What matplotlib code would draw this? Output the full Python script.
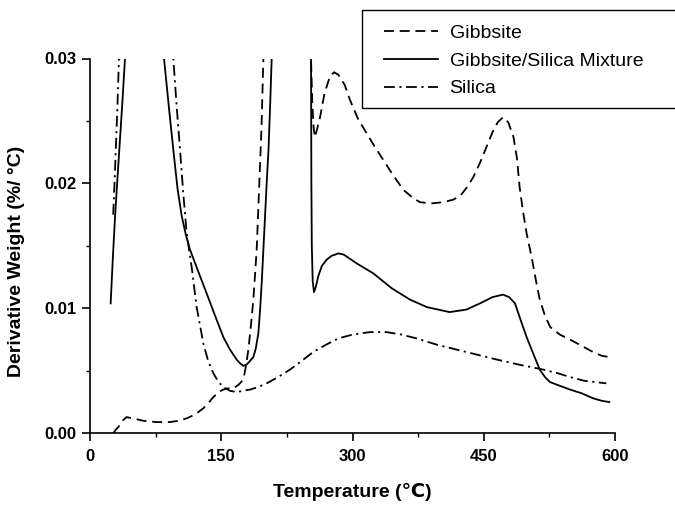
import matplotlib
matplotlib.use("Agg")
import matplotlib.pyplot as plt
from matplotlib.patches import Rectangle
from matplotlib.ticker import MultipleLocator, FormatStrFormatter

plt.rcParams['font.family'] = ['Liberation Sans', 'DejaVu Sans']

# Gibbsite (dashed)
gib_x = [26.7, 29.5, 32.4, 37, 41.9, 48, 55, 61, 75, 91.4, 101, 110.5, 120, 129.5, 135, 141,
         147, 152.4, 158, 163.8, 170, 175.2, 178, 181, 184, 186.7, 190.5, 193.5, 196, 198.1,
         200, 225, 251.5, 252.6, 254, 255.5, 257, 259, 262.9, 268, 274.3, 279, 283.8, 291,
         297, 306.7, 312, 324, 335, 346, 358, 368, 377, 390, 404, 415, 423, 431, 438, 446,
         453, 460, 466, 472, 478, 484, 488, 491, 495, 499, 505, 510, 514, 520, 526, 537,
         548.6, 562, 575, 585, 594]
gib_y = [0.0000, 0.0003, 0.0005, 0.0010, 0.0013, 0.0012, 0.0011, 0.0010, 0.0009, 0.0009,
         0.0010, 0.0012, 0.0015, 0.0020, 0.0024, 0.0029, 0.0033, 0.0035, 0.0036, 0.0036,
         0.0039, 0.0043, 0.0053, 0.0067, 0.0087, 0.0107, 0.0147, 0.0200, 0.0245, 0.0299,
         0.034, 0.05, 0.034, 0.0300, 0.0265, 0.0245, 0.0237, 0.0242, 0.0253, 0.0272, 0.0286,
         0.0289, 0.0287, 0.0279, 0.0267, 0.0251, 0.0245, 0.0231, 0.0219, 0.0207, 0.0195,
         0.0189, 0.0185, 0.0184, 0.0185, 0.0187, 0.0190, 0.0197, 0.0205, 0.0217, 0.0229,
         0.0241, 0.0249, 0.0253, 0.0249, 0.0237, 0.0220, 0.0197, 0.0177, 0.0160, 0.0140,
         0.0121, 0.0107, 0.0094, 0.0085, 0.0079, 0.0075, 0.0070, 0.0065, 0.0062, 0.0061]

# Gibbsite/Silica mixture (solid)
mix_x = [23.6, 26, 28.6, 31, 33.5, 37, 40, 43, 60, 82, 84.6, 90, 95.2, 100, 104.8, 109.5,
         114.3, 124, 133.3, 143, 152.4, 160, 167.6, 171.5, 175.2, 179, 183, 186.7, 189.5,
         192.4, 194.3, 196.2, 198, 200, 201.9, 204, 206, 207.6, 209, 230, 251.5, 252.6,
         253, 253.5, 254.5, 256, 258, 261, 265, 270.5, 276, 283.8, 290, 304.8, 323.8, 345,
         365.7, 385, 411, 430, 445.7, 460, 472, 479, 485.7, 492, 499, 507, 514, 520, 525.7,
         537, 548.6, 562, 575, 585, 593.5]
mix_y = [0.0104, 0.0139, 0.0173, 0.0200, 0.0227, 0.0265, 0.0300, 0.034, 0.05, 0.034, 0.0300,
         0.0262, 0.0227, 0.0196, 0.0174, 0.0159, 0.0147, 0.0129, 0.0112, 0.0094, 0.0077,
         0.0067, 0.0059, 0.0056, 0.0054, 0.0055, 0.0058, 0.0061, 0.0068, 0.0080, 0.0098,
         0.0120, 0.0145, 0.0173, 0.0200, 0.0227, 0.0265, 0.0299, 0.034, 0.05, 0.034, 0.0300,
         0.0200, 0.0150, 0.0122, 0.0113, 0.0117, 0.0126, 0.0134, 0.0139, 0.0142, 0.0144,
         0.0143, 0.0136, 0.0128, 0.0116, 0.0107, 0.0101, 0.0097, 0.0099, 0.0104, 0.0109,
         0.0111, 0.0109, 0.0104, 0.0091, 0.0077, 0.0063, 0.0051, 0.0045, 0.0041, 0.0038,
         0.0035, 0.0032, 0.0028, 0.0026, 0.0025]

# Silica (dash-dot)
sil_x = [26.5, 28, 29.5, 31.5, 33.1, 35, 60, 93, 95.2, 99, 102.9, 106.5, 110.5, 116.2, 121.9,
         129.5, 135, 141, 147, 152.4, 160, 167.6, 175, 182.9, 192, 201.9, 215, 228.6, 242,
         255, 270, 284, 300, 320, 339, 356, 373, 396, 419, 442, 465, 490, 518, 535, 548.6,
         565, 590]
sil_y = [0.0175, 0.0200, 0.0227, 0.0265, 0.0300, 0.034, 0.05, 0.034, 0.0300, 0.0262, 0.0227,
         0.0193, 0.0160, 0.0133, 0.0101, 0.0072, 0.0058, 0.0048, 0.0041, 0.0037, 0.0034,
         0.0033, 0.0034, 0.0035, 0.0037, 0.0040, 0.0045, 0.0051, 0.0058, 0.0065, 0.0071,
         0.0076, 0.0079, 0.0081, 0.0081, 0.0079, 0.0076, 0.0071, 0.0067, 0.0063, 0.0059,
         0.0055, 0.0051, 0.0048, 0.0045, 0.0042, 0.0040]

x_ticks = [0, 150, 300, 450, 600]
y_ticks = [0.00, 0.01, 0.02, 0.03]

fig = plt.figure(figsize=(6.75, 5.05), dpi=100)
ax = fig.add_axes([90/675, 1-433.3/505, 525/675, 374.8/505])

lw = 1.3
l1, = ax.plot(gib_x, gib_y, color='black', lw=lw, dashes=(5.5, 3.2), label='Gibbsite')
l2, = ax.plot(mix_x, mix_y, color='black', lw=lw, label='Gibbsite/Silica Mixture')
l3, = ax.plot(sil_x, sil_y, color='black', lw=lw, dashes=(6, 2.5, 1.2, 2.5), label='Silica')

ax.set_xlim(0, 600)
ax.set_ylim(0, 0.03)
ax.set_xticks(x_ticks)
ax.set_yticks(y_ticks)
ax.xaxis.set_minor_locator(MultipleLocator(75))
ax.yaxis.set_minor_locator(MultipleLocator(0.005))
ax.yaxis.set_major_formatter(FormatStrFormatter('%.2f'))

for s in ['top', 'right']:
    ax.spines[s].set_visible(False)
for s in ['left', 'bottom']:
    ax.spines[s].set_linewidth(1.2)

ax.tick_params(which='major', direction='out', length=6, width=1.2, labelsize=12, pad=4)
ax.tick_params(which='minor', direction='out', length=3, width=1.0)
ax.tick_params(axis='x', which='major', pad=5)
for t in ax.get_xticklabels() + ax.get_yticklabels():
    t.set_fontweight('bold')

ax.set_xlabel('Temperature (℃)', fontsize=14, fontweight='bold')
ax.set_ylabel('Derivative Weight (%/ °C)', fontsize=14, fontweight='bold')
ax.xaxis.set_label_coords(0.499, -0.133)
ax.yaxis.set_label_coords(-0.124, 0.46)

# legend box hangs over the top-right corner
fig.add_artist(Rectangle((362/675, 1-108/505), 0.5, 98/505, transform=fig.transFigure,
                         fill=False, edgecolor='black', lw=1.0))
fig.legend(handles=[l1, l2, l3], loc='upper left', bbox_to_anchor=(384/675, 1-24/505),
           frameon=False, fontsize=14, handlelength=2.8, handletextpad=0.57,
           labelspacing=0.53, borderpad=0, borderaxespad=0)

fig.savefig('out.png', dpi=100)
